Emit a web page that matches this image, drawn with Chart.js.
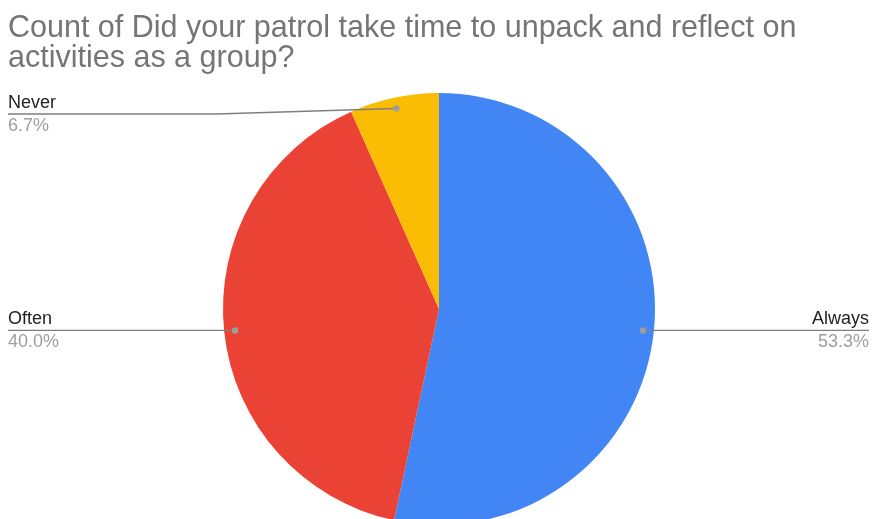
<!DOCTYPE html>
<html>
<head>
<meta charset="utf-8">
<script src="https://cdn.jsdelivr.net/npm/chart.js@4"></script>
<style>
  html, body { margin: 0; padding: 0; background: #fff; overflow: hidden; }
  #wrap { width: 872px; height: 519px; overflow: hidden; }
</style>
</head>
<body>
<div id="wrap"><canvas id="myChart" width="872" height="540"></canvas></div>
<script>
// chart data
const titleLines = ['Count of Did your patrol take time to unpack and reflect on', 'activities as a group?']
const labels = ['Always', 'Often', 'Never']
const counts = [8, 6, 1]
const colors = ['#4285f4', '#ea4335', '#fbbc04']

// draws title + leader lines with labels, like the sheets export
const sheetLabels = {
  id: 'sheetLabels',
  afterDraw(chart) {
    const ctx = chart.ctx
    const area = chart.chartArea
    const total = counts.reduce((a, b) => a + b, 0)

    ctx.save()
    ctx.fillStyle = '#757575'
    ctx.font = '30.5px "Liberation Sans", Arial, sans-serif'
    ctx.textAlign = 'left'
    ctx.textBaseline = 'alphabetic'
    ctx.fillText(titleLines[0], 8, 37)
    ctx.fillText(titleLines[1], 8, 67)

    const arcs = chart.getDatasetMeta(0).data
    arcs.forEach((arc, i) => {
      const p = arc.getProps(['x', 'y', 'startAngle', 'endAngle', 'outerRadius'], true)
      const mid = (p.startAngle + p.endAngle) / 2
      const r = p.outerRadius - 11
      const dx = p.x + Math.cos(mid) * r
      const dy = p.y + Math.sin(mid) * r
      const right = Math.cos(mid) > 0
      const lineY = Math.max(dy, area.top + 21)
      const edge = right ? 869 : 8
      const elbow = right ? dx + 180 : dx - 180

      ctx.strokeStyle = '#7f7f7f'
      ctx.lineWidth = 1.3
      ctx.beginPath()
      ctx.moveTo(dx, dy)
      if (Math.abs(lineY - dy) > 1) ctx.lineTo(elbow, lineY)
      ctx.lineTo(edge, lineY)
      ctx.stroke()

      ctx.fillStyle = '#9e9e9e'
      ctx.beginPath()
      ctx.arc(dx, dy, 3.2, 0, Math.PI * 2)
      ctx.fill()

      ctx.textAlign = right ? 'right' : 'left'
      ctx.font = '18px "Liberation Sans", Arial, sans-serif'
      ctx.fillStyle = '#222222'
      ctx.fillText(labels[i], edge, lineY - 6)
      ctx.fillStyle = '#9e9e9e'
      ctx.fillText((counts[i] / total * 100).toFixed(1) + '%', edge, lineY + 17)
    })
    ctx.restore()
  }
}

const config = {
  type: 'pie',
  data: {
    labels: labels,
    datasets: [{
      data: counts,
      backgroundColor: colors,
      borderWidth: 0
    }]
  },
  options: {
    responsive: false,
    animation: false,
    layout: { padding: { left: 223, right: 217, top: 93, bottom: 15 } },
    plugins: {
      legend: { display: false },
      tooltip: { enabled: false }
    }
  },
  plugins: [sheetLabels]
}

var myChart = new Chart(document.getElementById('myChart'), config)
</script>
</body>
</html>
